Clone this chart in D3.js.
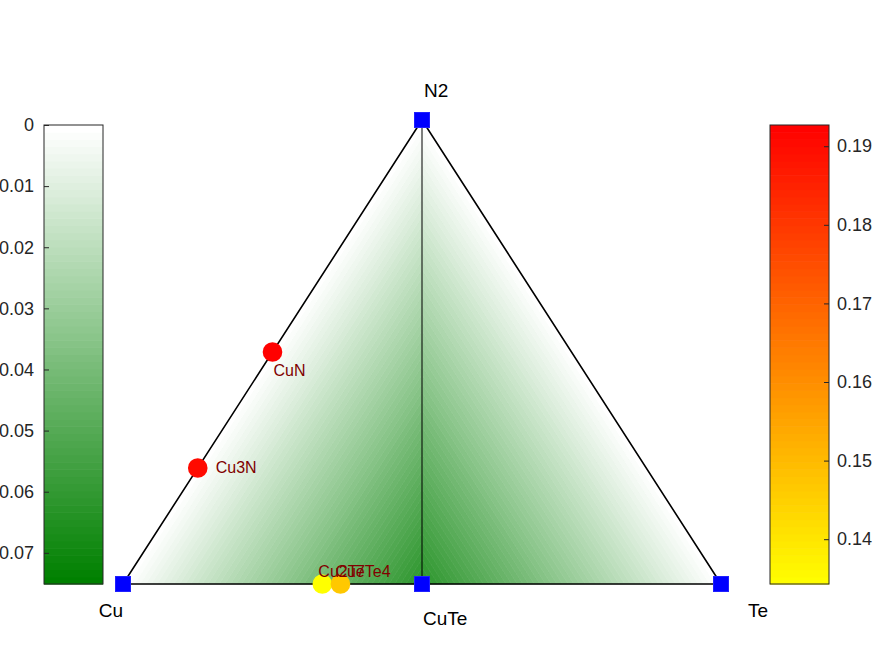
<!DOCTYPE html>
<html>
<head>
<meta charset="utf-8">
<script src="https://cdn.jsdelivr.net/npm/d3@7"></script>
<style>
  html, body { margin: 0; padding: 0; background: #fff; }
  svg { display: block; font-family: "Liberation Sans", Arial, Helvetica, sans-serif; }
</style>
</head>
<body>
<svg id="chart" width="875" height="656"></svg>
<script>
// ---------------- data ----------------
// stable (hull) phases: composition fractions (Te, N) and formation energy
const hullNames    = ["Cu", "CuTe", "Te", "N2"];
const hullXTe      = [0, 0.5, 1, 0];
const hullXN       = [0, 0, 0, 1];
const hullEnergy   = [0, -0.062, 0, 0];
const hullTriangles = [[0, 1, 3], [1, 2, 3]];

// unstable phases: composition and energy above hull
const phaseNames   = ["CuN", "Cu3N", "Cu2Te", "Cu7Te4"];
const phaseXTe     = [0, 0, 1 / 3, 4 / 11];
const phaseXN      = [0.5, 0.25, 0, 0];
const phaseEAbove  = [0.1925, 0.1905, 0.1343, 0.1470];

// colour bar ranges and ticks
const formRange    = [-0.0751, 0];
const formTicks    = [-0.07, -0.06, -0.05, -0.04, -0.03, -0.02, -0.01, 0];
const aboveRange   = [0.1343, 0.1927];
const aboveTicks   = [0.14, 0.15, 0.16, 0.17, 0.18, 0.19];

// ---------------- layout ----------------
const svg = d3.select("#chart");
const W = 875, H = 656;
svg.append("rect").attr("width", W).attr("height", H).attr("fill", "#fff");

// ternary mapping: horizontal = xTe + 0.5*xN, vertical = xN
const sx = d3.scaleLinear().domain([0, 1]).range([123, 721]);
const sy = d3.scaleLinear().domain([0, 1]).range([584, 120]);
const px = (te, n) => sx(te + 0.5 * n);
const py = (te, n) => sy(n);

const nLevels = 64;
const greenInterp = d3.interpolateRgb("rgb(0,128,0)", "#ffffff");
function greenColor(v) {
  let i = Math.floor((v - formRange[0]) / (formRange[1] - formRange[0]) * nLevels);
  i = Math.max(0, Math.min(nLevels - 1, i));
  return greenInterp(i / (nLevels - 1));
}
function autumnColor(v) {
  let t = (v - aboveRange[0]) / (aboveRange[1] - aboveRange[0]);
  t = Math.max(0, Math.min(1, t));
  return d3.rgb(255, Math.round(255 * (1 - t)), 0).toString();
}

// ---------------- shaded hull triangles ----------------
function clip(poly, level, keepAbove) {
  const out = [];
  for (let i = 0; i < poly.length; i++) {
    const a = poly[i], b = poly[(i + 1) % poly.length];
    const ina = keepAbove ? a.e >= level : a.e <= level;
    const inb = keepAbove ? b.e >= level : b.e <= level;
    if (ina) out.push(a);
    if (ina !== inb) {
      const t = (level - a.e) / (b.e - a.e);
      out.push({ x: a.x + t * (b.x - a.x), y: a.y + t * (b.y - a.y), e: level });
    }
  }
  return out;
}
const gShade = svg.append("g");
const step = (formRange[1] - formRange[0]) / nLevels;
hullTriangles.forEach(tri => {
  const poly = tri.map(k => ({ x: px(hullXTe[k], hullXN[k]), y: py(hullXTe[k], hullXN[k]), e: hullEnergy[k] }));
  for (let i = 0; i < nLevels; i++) {
    const lo = formRange[0] + i * step, hi = lo + step;
    let p = clip(poly, i === 0 ? -Infinity : lo, true);
    if (p.length < 3) continue;
    p = clip(p, i === nLevels - 1 ? Infinity : hi, false);
    if (p.length < 3) continue;
    const c = greenColor((lo + hi) / 2);
    gShade.append("polygon")
      .attr("points", p.map(q => q.x + "," + q.y).join(" "))
      .attr("fill", c).attr("stroke", c).attr("stroke-width", 0.7);
  }
});

// ---------------- triangle edges ----------------
const vCu = [px(0, 0), py(0, 0)], vTe = [px(1, 0), py(1, 0)], vN = [px(0, 1), py(0, 1)];
svg.append("polygon")
  .attr("points", [vCu, vTe, vN].map(p => p.join(",")).join(" "))
  .attr("fill", "none").attr("stroke", "#000").attr("stroke-width", 1.6);
// inner hull edge (CuTe - N2)
svg.append("line")
  .attr("x1", px(hullXTe[1], hullXN[1])).attr("y1", py(hullXTe[1], hullXN[1]))
  .attr("x2", px(hullXTe[3], hullXN[3])).attr("y2", py(hullXTe[3], hullXN[3]))
  .attr("stroke", "#000").attr("stroke-width", 1);

// ---------------- unstable phases ----------------
const labelOffsets = [[1, 24], [18, 5], [-4, -7], [-5, -7]];
phaseNames.forEach((name, i) => {
  svg.append("circle")
    .attr("cx", px(phaseXTe[i], phaseXN[i])).attr("cy", py(phaseXTe[i], phaseXN[i]))
    .attr("r", 9.8).attr("fill", autumnColor(phaseEAbove[i]));
});
phaseNames.forEach((name, i) => {
  svg.append("text")
    .attr("x", px(phaseXTe[i], phaseXN[i]) + labelOffsets[i][0])
    .attr("y", py(phaseXTe[i], phaseXN[i]) + labelOffsets[i][1])
    .attr("font-size", 16).attr("fill", "#800000").text(name);
});

// ---------------- hull vertices ----------------
hullNames.forEach((name, k) => {
  svg.append("rect")
    .attr("x", px(hullXTe[k], hullXN[k]) - 7.5).attr("y", py(hullXTe[k], hullXN[k]) - 7.5)
    .attr("width", 15).attr("height", 15)
    .attr("fill", "#0000ff").attr("stroke", "#2020ff").attr("stroke-width", 1);
});
// corner / hull labels
const vertexLabelOffsets = { "Cu": [0, 33, "end"], "Te": [27, 33, "start"], "CuTe": [1, 41, "start"], "N2": [2, -23, "start"] };
hullNames.forEach((name, k) => {
  const o = vertexLabelOffsets[name];
  svg.append("text")
    .attr("x", px(hullXTe[k], hullXN[k]) + o[0])
    .attr("y", py(hullXTe[k], hullXN[k]) + o[1])
    .attr("text-anchor", o[2])
    .attr("font-size", 19).attr("fill", "#000").text(name);
});

// ---------------- colour bars ----------------
function colorbar(x0, width, y0, y1, range, ticks, colorFn, side, fmt) {
  const g = svg.append("g");
  const sc = d3.scaleLinear().domain(range).range([y1, y0]);
  const n = 64;
  for (let i = 0; i < n; i++) {
    const v0 = range[0] + (range[1] - range[0]) * i / n;
    const v1 = range[0] + (range[1] - range[0]) * (i + 1) / n;
    g.append("rect")
      .attr("x", x0).attr("width", width)
      .attr("y", sc(v1)).attr("height", sc(v0) - sc(v1) + 0.6)
      .attr("fill", colorFn((v0 + v1) / 2));
  }
  g.append("rect").attr("x", x0).attr("y", y0).attr("width", width).attr("height", y1 - y0)
    .attr("fill", "none").attr("stroke", "#262626").attr("stroke-width", 1);
  const axis = (side === "left" ? d3.axisLeft(sc) : d3.axisRight(sc))
    .tickValues(ticks).tickSizeInner(-5).tickSizeOuter(0).tickPadding(side === "left" ? 10 : 8)
    .tickFormat(fmt);
  const ga = g.append("g")
    .attr("transform", `translate(${side === "left" ? x0 : x0 + width},0)`)
    .call(axis);
  ga.select(".domain").remove();
  ga.selectAll(".tick line").attr("stroke", "#262626");
  ga.selectAll(".tick text").attr("fill", "#262626").attr("font-size", 18)
    .attr("font-family", "Liberation Sans, Arial, sans-serif");
}
colorbar(44, 59, 125, 584, formRange, formTicks, greenColor, "left",
  d => d === 0 ? "0" : d.toFixed(2));
colorbar(770, 59, 125, 584, aboveRange, aboveTicks, autumnColor, "right",
  d => d.toFixed(2));
</script>
</body>
</html>
